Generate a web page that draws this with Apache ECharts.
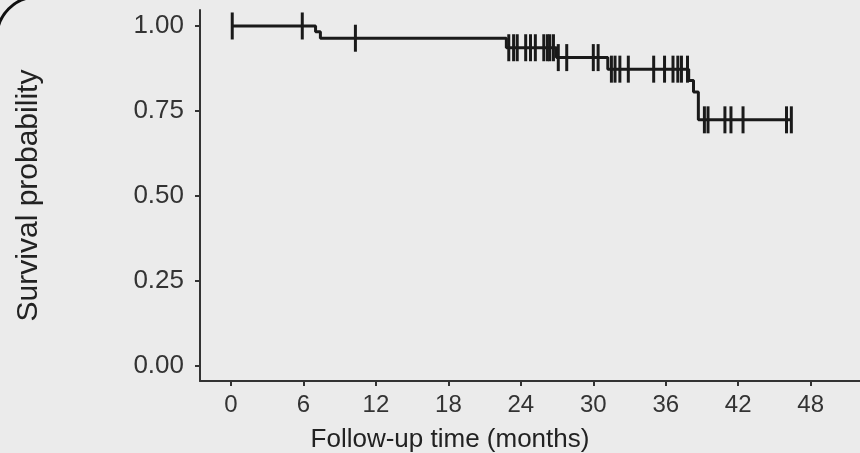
<!DOCTYPE html>
<html>
<head>
<meta charset="utf-8">
<script src="https://cdn.jsdelivr.net/npm/echarts@6/dist/echarts.min.js"></script>
<style>
    html, body { margin: 0; padding: 0; background: #ebebeb; }
    #km_chart { width: 860px; height: 453px; }
</style>
</head>
<body>
<div id="km_chart"></div>
<script>
// Kaplan-Meier curve data
var eventTimes = [0, 7.0, 7.4, 22.8, 26.95, 31.2, 37.9, 38.3, 38.7];
var eventSurv = [1.0, 0.983, 0.964, 0.936, 0.907, 0.873, 0.840, 0.806, 0.724];
var lastTime = 46.4;
var censorTimes = [
    0.1, 5.9, 10.3,
    23.0, 23.4, 23.7, 24.4, 24.8, 25.2, 25.9, 26.2, 26.4, 26.7,
    27.1, 27.8, 30.0, 30.4,
    31.5, 31.8, 32.2, 32.9, 35.0, 35.9, 36.6, 37.0, 37.3, 37.8,
    39.2, 39.5, 40.9, 41.4, 42.4, 46.0, 46.4
];
var xTicks = [0, 6, 12, 18, 24, 30, 36, 42, 48];
var yTicks = [0, 0.25, 0.5, 0.75, 1];

// survival level at time t (step function)
var survAt = function (t) {
    var s = eventSurv[0];
    for (var i = 0; i < eventTimes.length; i++) {
        if (eventTimes[i] <= t) s = eventSurv[i];
    }
    return s;
};

var curveData = eventTimes.map(function (t, i) { return [t, eventSurv[i]]; });
curveData.push([lastTime, survAt(lastTime)]);
var censorData = censorTimes.map(function (t) { return [t, survAt(t)]; });

var km_element = document.getElementById('km_chart');
var km_chart = echarts.init(km_element);

var textColor = '#333333';
var fontFamily = '"Liberation Sans", Arial, sans-serif';

km_chart.setOption({
    backgroundColor: '#ebebeb',
    animation: false,
    textStyle: { fontFamily: fontFamily },

    grid: {
        left: 200,
        top: 10,
        width: 665,
        height: 371,
        containLabel: false,
        outerBoundsMode: 'none'
    },

    xAxis: {
        type: 'value',
        min: -2.57,
        max: 52.5,
        name: 'Follow-up time (months)',
        nameLocation: 'middle',
        nameGap: 46,
        nameTextStyle: {
            fontSize: 26,
            color: '#222',
            padding: [0, 165, 0, 0]
        },
        axisLine: { show: true, onZero: false, lineStyle: { color: textColor, width: 2 } },
        axisTick: { show: true, length: 5, customValues: xTicks, lineStyle: { color: textColor, width: 2 } },
        axisLabel: { customValues: xTicks, fontSize: 24, color: textColor, margin: 12 },
        splitLine: { show: false }
    },

    yAxis: {
        type: 'value',
        min: -0.0441,
        max: 1.047,
        name: 'Survival probability',
        nameLocation: 'middle',
        nameGap: 156,
        nameRotate: 90,
        nameTextStyle: { fontSize: 30, color: '#222' },
        axisLine: { show: true, onZero: false, lineStyle: { color: textColor, width: 2 } },
        axisTick: { show: true, length: 5, customValues: yTicks, lineStyle: { color: textColor, width: 2 } },
        axisLabel: {
            customValues: yTicks,
            fontSize: 26,
            color: textColor,
            margin: 16,
            formatter: function (v) { return v.toFixed(2); }
        },
        splitLine: { show: false }
    },

    // rounded frame corner at top-left
    graphic: [{
        type: 'rect',
        shape: { x: -3, y: -3, width: 1000, height: 1000, r: 40 },
        style: { fill: null, stroke: '#111', lineWidth: 3 },
        silent: true
    }],

    series: [{
        name: 'Survival',
        type: 'line',
        step: 'end',
        symbol: 'none',
        lineStyle: { color: '#1a1a1a', width: 3 },
        data: curveData,
        z: 2
    }, {
        name: 'Censored',
        type: 'scatter',
        symbol: 'rect',
        symbolSize: [3, 27],
        itemStyle: { color: '#1a1a1a', opacity: 1 },
        data: censorData,
        z: 3
    }]
});
</script>
</body>
</html>
